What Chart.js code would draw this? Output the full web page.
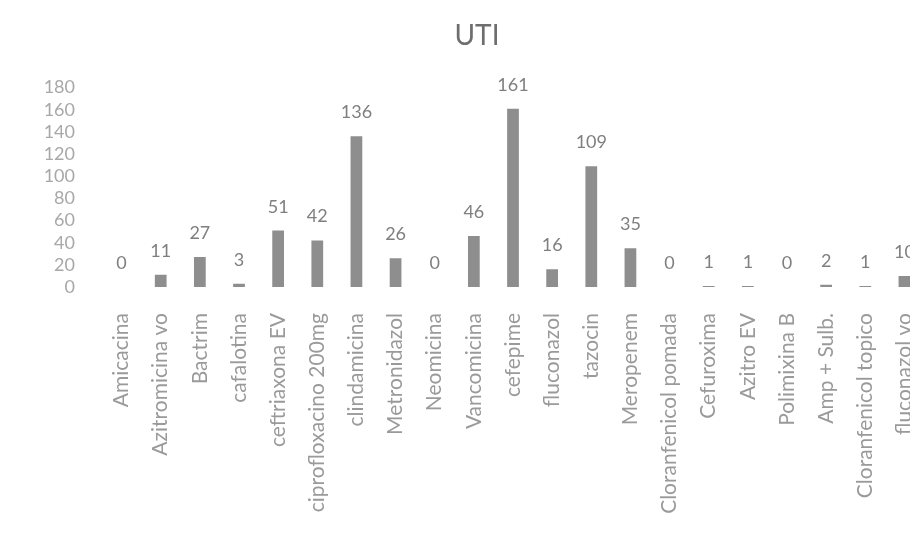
<!DOCTYPE html>
<html>
<head>
<meta charset="utf-8">
<script src="https://cdn.jsdelivr.net/npm/chart.js@4/dist/chart.umd.min.js"></script>
<style>
  html, body { margin: 0; padding: 0; background: #fff; overflow: hidden; }
  #chart { display: block; }
</style>
</head>
<body>
<canvas id="chart" width="924" height="538"></canvas>
<script>
const categories = [
  "Amicacina", "Azitromicina vo", "Bactrim", "cafalotina", "ceftriaxona EV",
  "ciprofloxacino 200mg", "clindamicina", "Metronidazol", "Neomicina", "Vancomicina",
  "cefepime", "fluconazol", "tazocin", "Meropenem", "Cloranfenicol pomada",
  "Cefuroxima", "Azitro EV", "Polimixina B", "Amp + Sulb.", "Cloranfenicol topico",
  "fluconazol vo"
];
const values = [0, 11, 27, 3, 51, 42, 136, 26, 0, 46, 161, 16, 109, 35, 0, 1, 1, 0, 2, 1, 10];
const yTicks = [0, 20, 40, 60, 80, 100, 120, 140, 160, 180];

// etiquetas de valor encima de cada barra
const valueLabels = {
  id: "valueLabels",
  afterDatasetsDraw(chart) {
    const ctx = chart.ctx;
    const meta = chart.getDatasetMeta(0);
    ctx.save();
    ctx.font = "18px Lato";
    ctx.fillStyle = "#7f7f7f";
    ctx.textAlign = "center";
    ctx.textBaseline = "alphabetic";
    meta.data.forEach((bar, i) => {
      ctx.fillText(String(values[i]), bar.x, bar.y - 18);
    });
    ctx.restore();
  }
};

new Chart(document.getElementById("chart"), {
  type: "bar",
  data: {
    labels: categories,
    datasets: [{
      data: values,
      backgroundColor: "#8e8e8e",
      barPercentage: 0.6,
      categoryPercentage: 0.5
    }]
  },
  options: {
    responsive: false,
    animation: false,
    layout: { padding: { left: 30, right: 0, top: 0, bottom: 0 } },
    plugins: {
      legend: { display: false },
      tooltip: { enabled: false },
      title: {
        display: true,
        text: "UTI",
        color: "#6e6e6e",
        font: { family: "Lato", size: 28, weight: "normal" },
        padding: { top: 19, bottom: 35 }
      }
    },
    scales: {
      x: {
        grid: { display: false },
        border: { display: false },
        afterFit(scale) {
          scale.height = 251;
          scale.paddingLeft = 0;
          scale.paddingRight = 0;
        },
        ticks: {
          color: "#9a9a9a",
          font: { family: "Lato", size: 21 },
          minRotation: 90,
          maxRotation: 90,
          padding: 18,
          autoSkip: false
        }
      },
      y: {
        min: 0,
        max: 180,
        grid: { display: false },
        border: { display: false },
        afterFit(scale) { scale.width = 72; },
        afterBuildTicks(scale) {
          scale.ticks = yTicks.map(v => ({ value: v }));
        },
        ticks: {
          color: "#a8a8a8",
          font: { family: "Lato", size: 18 },
          padding: 19,
          autoSkip: false
        }
      }
    }
  },
  plugins: [valueLabels]
});
</script>
</body>
</html>
